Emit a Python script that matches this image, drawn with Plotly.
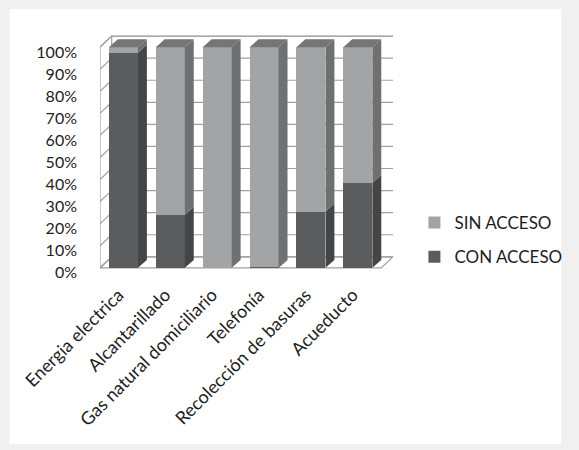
import plotly.graph_objects as go

# ---- data -------------------------------------------------------------
categories = [
    "Energia electrica",
    "Alcantarillado",
    "Gas natural domiciliario",
    "Telefonía",
    "Recolección de basuras",
    "Acueducto",
]
con_acceso = [97.5, 24.0, 0.0, 0.5, 25.5, 38.5]
sin_acceso = [2.5, 76.0, 100.0, 99.5, 74.5, 61.5]
y_ticks = [0, 10, 20, 30, 40, 50, 60, 70, 80, 90, 100]
y_tick_labels = ["0%", "10%", "20%", "30%", "40%", "50%", "60%", "70%", "80%", "90%", "100%"]

# ---- geometry of the pseudo-3D box -------------------------------------
W, H = 579, 450
PLOT_L, PLOT_R, PLOT_T, PLOT_B = 100, 401, 35, 276
X_RANGE = [-0.5, 5.75]
Y_RANGE = [-3.7, 105.5]
BAR_W = 0.62          # front face width (category units)
BAR_DX, BAR_DY = 0.19, 3.6   # bar depth offset
WALL_DX, WALL_DY = 0.25, 5.0  # wall depth offset
LABEL_SHIFT = 2.2     # tick labels sit slightly below the front scale

C_DARK, C_DARK_SIDE = "#5a5c5e", "#434547"
C_LIGHT, C_LIGHT_SIDE = "#a2a4a6", "#6e7072"
C_TOP = "#737577"
GRID = "#a0a0a0"
FONT = "Lato"
TXT = "#1e1e1e"

xs = list(range(len(categories)))

fig = go.Figure()

# front faces
fig.add_trace(go.Bar(x=xs, y=con_acceso, width=BAR_W, name="CON ACCESO",
                     marker=dict(color=C_DARK, line=dict(width=0)),
                     legendgroup="con", legendrank=2, hoverinfo="skip"))
fig.add_trace(go.Bar(x=xs, y=sin_acceso, width=BAR_W, name="SIN ACCESO",
                     marker=dict(color=C_LIGHT, line=dict(width=0)),
                     legendgroup="sin", legendrank=1, hoverinfo="skip"))


def side_poly(xc, y0, y1):
    r = xc + BAR_W / 2
    return ([r, r + BAR_DX, r + BAR_DX, r, r, None],
            [y0, y0 + BAR_DY, y1 + BAR_DY, y1, y0, None])


# side and top faces for each stacked segment
dark_x, dark_y, light_x, light_y, top_x, top_y = [], [], [], [], [], []
for xc, c, s in zip(xs, con_acceso, sin_acceso):
    if c > 0:
        px, py = side_poly(xc, 0, c)
        dark_x += px
        dark_y += py
    if s > 0:
        px, py = side_poly(xc, c, c + s)
        light_x += px
        light_y += py
    t = c + s
    l, r = xc - BAR_W / 2, xc + BAR_W / 2
    top_x += [l, l + BAR_DX, r + BAR_DX, r, l, None]
    top_y += [t, t + BAR_DY, t + BAR_DY, t, t, None]

for px, py, col in [(dark_x, dark_y, C_DARK_SIDE), (light_x, light_y, C_LIGHT_SIDE),
                    (top_x, top_y, C_TOP)]:
    fig.add_trace(go.Scatter(x=px, y=py, mode="lines", fill="toself",
                             fillcolor=col, line=dict(width=0, color=col),
                             showlegend=False, hoverinfo="skip"))

# invisible trace that carries the tick-label axis
fig.add_trace(go.Scatter(x=[None], y=[None], yaxis="y2", showlegend=False,
                         hoverinfo="skip"))

# ---- walls, floor and grid --------------------------------------------
shapes = []
pw, ph = PLOT_R - PLOT_L, PLOT_B - PLOT_T


def to_paper(px, py):
    return (px - PLOT_L) / pw, (PLOT_B - py) / ph


# white panel on the grey page
x0p, y0p = to_paper(7, 444)
x1p, y1p = to_paper(574, 9)
shapes.append(dict(type="rect", xref="paper", yref="paper", x0=x0p, x1=x1p,
                   y0=y0p, y1=y1p, fillcolor="white", line=dict(width=0),
                   layer="below"))

xl, xr = X_RANGE[0], xs[-1] + 0.5
shapes.append(dict(type="path", xref="x", yref="y", layer="below",
                   path=f"M{xl},0 L{xr},0 L{xr + WALL_DX},{WALL_DY} L{xl + WALL_DX},{WALL_DY} Z",
                   fillcolor="white", line=dict(color=GRID, width=1.2)))
shapes.append(dict(type="path", xref="x", yref="y", layer="below",
                   path=f"M{xl},0 L{xl + WALL_DX},{WALL_DY} L{xl + WALL_DX},{100 + WALL_DY} L{xl},100 Z",
                   fillcolor="white", line=dict(color=GRID, width=1.2)))
for t in y_ticks:
    shapes.append(dict(type="line", xref="x", yref="y", layer="below",
                       x0=xl + WALL_DX, x1=xr + WALL_DX, y0=t + WALL_DY, y1=t + WALL_DY,
                       line=dict(color=GRID if t < 100 else "#8c8c8c", width=1.2)))
    shapes.append(dict(type="line", xref="x", yref="y", layer="below",
                       x0=xl, x1=xl + WALL_DX, y0=t, y1=t + WALL_DY,
                       line=dict(color=GRID, width=1.2)))

lx, _ = to_paper(423, 0)
_, ly = to_paper(0, 205)

fig.update_layout(
    width=W, height=H,
    margin=dict(l=PLOT_L, r=W - PLOT_R, t=PLOT_T, b=H - PLOT_B, pad=0),
    paper_bgcolor="#f0f0f0",
    plot_bgcolor="rgba(0,0,0,0)",
    barmode="stack",
    shapes=shapes,
    font=dict(family=FONT, size=16, color=TXT),
    xaxis=dict(range=X_RANGE, tickvals=xs, ticktext=categories, tickangle=-45,
               showgrid=False, zeroline=False, showline=False, ticks="",
               ticklabelstandoff=4, ticklabelshift=-5,
               tickfont=dict(family=FONT, size=18, color=TXT)),
    yaxis=dict(range=Y_RANGE, showticklabels=False, showgrid=False,
               zeroline=False, showline=False, ticks=""),
    yaxis2=dict(range=[Y_RANGE[0] + LABEL_SHIFT, Y_RANGE[1] + LABEL_SHIFT],
                overlaying="y", side="left", tickvals=y_ticks, ticktext=y_tick_labels,
                showgrid=False, zeroline=False, showline=False, ticks="",
                ticklabelstandoff=22, tickfont=dict(family=FONT, size=16, color=TXT)),
    legend=dict(x=lx, y=ly, xanchor="left", yanchor="top", traceorder="grouped",
                tracegroupgap=9, bgcolor="rgba(0,0,0,0)",
                font=dict(family=FONT, size=17, color=TXT)),
    showlegend=True,
)

fig.write_html("out.html")
